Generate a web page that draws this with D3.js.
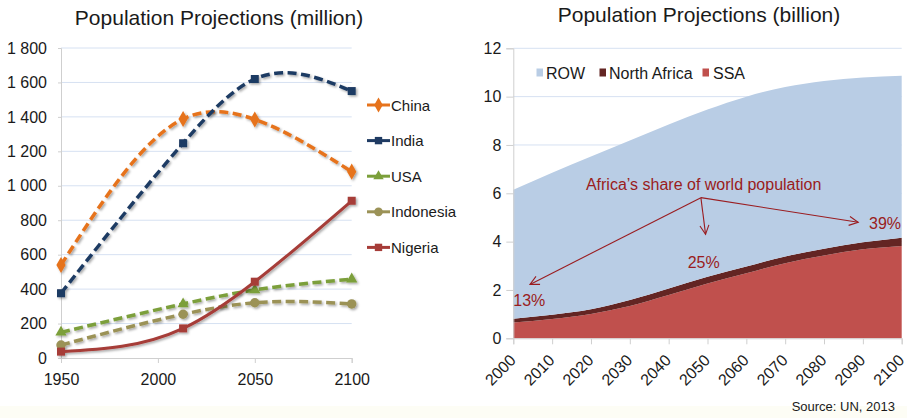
<!DOCTYPE html>
<html>
<head>
<meta charset="utf-8">
<script src="https://cdn.jsdelivr.net/npm/d3@7"></script>
<style>
  body { margin: 0; background: #fff; }
  text { font-family: "Liberation Sans", Arial, sans-serif; fill: #1a1a1a; }
</style>
</head>
<body>
<svg id="chart" width="907" height="418"></svg>
<script>
// ---- data: left chart (million) ----
var years = [1950, 2013, 2050, 2100];
var china = [540, 1388, 1385, 1082];
var india = [376, 1247, 1620, 1550];
var usa = [149, 314, 395, 458];
var indonesia = [75, 254, 321, 314];
var nigeria = [37, 172, 443, 913];
var leftYTicks = [0, 200, 400, 600, 800, 1000, 1200, 1400, 1600, 1800];
var leftXTicks = [1950, 2000, 2050, 2100];

// ---- data: right chart (billion) ----
var decades = [2000, 2010, 2020, 2030, 2040, 2050, 2060, 2070, 2080, 2090, 2100];
var ssa = [0.65, 0.80, 1.01, 1.34, 1.79, 2.27, 2.69, 3.11, 3.43, 3.68, 3.82];
var northAfrica = [0.16, 0.17, 0.19, 0.24, 0.27, 0.28, 0.28, 0.28, 0.28, 0.29, 0.34];
var row = [5.34, 5.88, 6.32, 6.60, 6.79, 6.92, 7.03, 7.01, 6.94, 6.82, 6.70];
var rightYTicks = [0, 2, 4, 6, 8, 10, 12];
var shareLabels = ["13%", "25%", "39%"];

var svg = d3.select("#chart");

// faint strip at the bottom
svg.append("rect").attr("x", 0).attr("y", 406).attr("width", 907).attr("height", 12).attr("fill", "#fdfdf5");

var defs = svg.append("defs");
var f = defs.append("filter").attr("id", "shadow").attr("x", "-20%").attr("y", "-20%").attr("width", "140%").attr("height", "140%");
f.append("feDropShadow").attr("dx", 1.5).attr("dy", 1.5).attr("stdDeviation", 1.2)
  .attr("flood-color", "#000").attr("flood-opacity", 0.35);

defs.append("marker").attr("id", "arrow").attr("viewBox", "-10 -6 12 12")
  .attr("markerWidth", 12).attr("markerHeight", 12).attr("markerUnits", "userSpaceOnUse")
  .attr("orient", "auto").attr("refX", 0).attr("refY", 0)
  .append("path").attr("d", "M-9,-4.5L0,0L-9,4.5").attr("fill", "none")
  .attr("stroke", "#9a1c20").attr("stroke-width", 1.1);

// natural cubic spline in x (Excel-like smoothing)
function curveSmoothX(context) {
  var pts;
  return {
    areaStart: function() {}, areaEnd: function() {},
    lineStart: function() { pts = []; },
    point: function(x, y) { pts.push([+x, +y]); },
    lineEnd: function() {
      var n = pts.length;
      if (!n) return;
      context.moveTo(pts[0][0], pts[0][1]);
      if (n < 3) { for (var j = 1; j < n; j++) context.lineTo(pts[j][0], pts[j][1]); return; }
      var h = [], s = [], i;
      for (i = 0; i < n - 1; i++) {
        h[i] = pts[i + 1][0] - pts[i][0];
        s[i] = (pts[i + 1][1] - pts[i][1]) / h[i];
      }
      // tridiagonal solve for second derivatives, natural ends
      var M = new Array(n).fill(0), a = [], b = [], c = [], d = [];
      for (i = 1; i < n - 1; i++) {
        a[i] = h[i - 1]; b[i] = 2 * (h[i - 1] + h[i]); c[i] = h[i]; d[i] = 6 * (s[i] - s[i - 1]);
      }
      for (i = 2; i < n - 1; i++) {
        var m = a[i] / b[i - 1];
        b[i] -= m * c[i - 1]; d[i] -= m * d[i - 1];
      }
      for (i = n - 2; i >= 1; i--) M[i] = (d[i] - (i < n - 2 ? c[i] * M[i + 1] : 0)) / b[i];
      for (i = 0; i < n - 1; i++) {
        var d0 = s[i] - h[i] * (2 * M[i] + M[i + 1]) / 6;
        var d1 = s[i] + h[i] * (M[i] + 2 * M[i + 1]) / 6;
        context.bezierCurveTo(pts[i][0] + h[i] / 3, pts[i][1] + d0 * h[i] / 3,
          pts[i + 1][0] - h[i] / 3, pts[i + 1][1] - d1 * h[i] / 3,
          pts[i + 1][0], pts[i + 1][1]);
      }
    }
  };
}

// ================= LEFT CHART =================
var xL = d3.scaleLinear().domain([1950, 2100]).range([61, 351.7]);
var yL = d3.scaleLinear().domain([0, 1800]).range([358, 48]);

svg.append("text").attr("x", 219).attr("y", 25).attr("text-anchor", "middle")
  .style("font-size", "21px").text("Population Projections (million)");

var gl = svg.append("g");
gl.selectAll(".grid").data(leftYTicks.slice(1)).enter().append("line")
  .attr("x1", xL(1950)).attr("x2", xL(2100))
  .attr("y1", function(d) { return yL(d); }).attr("y2", function(d) { return yL(d); })
  .attr("stroke", "#d6e1f2").attr("stroke-width", 1);

var yAxisL = gl.append("g").attr("transform", "translate(" + xL(1950) + ",0)")
  .call(d3.axisLeft(yL).tickValues(leftYTicks).tickSize(3).tickPadding(11)
    .tickFormat(function(d) { return d >= 1000 ? d3.format(",")(d).replace(",", " ") : d; }));
var xAxisL = gl.append("g").attr("transform", "translate(0," + yL(0) + ")")
  .call(d3.axisBottom(xL).tickValues(leftXTicks).tickSize(5).tickPadding(11).tickFormat(d3.format("d")));
[yAxisL, xAxisL].forEach(function(a) {
  a.select(".domain").attr("stroke", "#cfcfcf");
  a.selectAll(".tick line").attr("stroke", "#cfcfcf");
  a.selectAll("text").style("font-size", "16px").attr("fill", "#1a1a1a")
    .style("font-family", "'Liberation Sans', Arial, sans-serif");
});
yAxisL.select(".tick line").attr("stroke", "none");

var seriesL = [
  { name: "China", values: china, color: "#e6731c", symbol: d3.symbolDiamond, size: 75, dash: "9,4.5" },
  { name: "India", values: india, color: "#1f3b63", symbol: d3.symbolSquare, size: 64, dash: "9,4.5" },
  { name: "USA", values: usa, color: "#7b9f3a", symbol: d3.symbolTriangle, size: 55, dash: "9,4.5" },
  { name: "Indonesia", values: indonesia, color: "#9b9257", symbol: d3.symbolCircle, size: 70, dash: "9,4.5" },
  { name: "Nigeria", values: nigeria, color: "#a63c38", symbol: d3.symbolSquare, size: 64, dash: null }
];

var lineL = d3.line()
  .x(function(d, i) { return xL(years[i]); })
  .y(function(d) { return yL(d); })
  .curve(curveSmoothX);

var sg = gl.selectAll(".series").data(seriesL).enter().append("g").attr("filter", "url(#shadow)");
sg.append("path")
  .attr("d", function(s) { return lineL(s.values); })
  .attr("fill", "none").attr("stroke", function(s) { return s.color; })
  .attr("stroke-width", function(s) { return s.dash ? 3.5 : 3; })
  .attr("stroke-dasharray", function(s) { return s.dash; });
sg.each(function(s) {
  d3.select(this).selectAll("path.m").data(s.values).enter().append("path").attr("class", "m")
    .attr("d", d3.symbol().type(s.symbol).size(s.size))
    .attr("transform", function(d, i) { return "translate(" + xL(years[i]) + "," + yL(d) + ")"; })
    .attr("fill", s.color);
});

// legend
var lg = svg.append("g").selectAll("g").data(seriesL).enter().append("g")
  .attr("transform", function(d, i) { return "translate(367," + (105 + i * 35.6) + ")"; });
lg.append("line").attr("x1", 0).attr("x2", 23).attr("stroke", function(s) { return s.color; }).attr("stroke-width", 3);
lg.append("path").attr("d", function(s) { return d3.symbol().type(s.symbol).size(s.size * 0.85)(); })
  .attr("transform", "translate(11.5,0)").attr("fill", function(s) { return s.color; });
lg.append("text").attr("x", 24).attr("y", 5.5).style("font-size", "15px").text(function(s) { return s.name; });

// ================= RIGHT CHART =================
var xR = d3.scaleLinear().domain([2000, 2100]).range([513.3, 901.7]);
var yR = d3.scaleLinear().domain([0, 12]).range([338.3, 48.3]);

svg.append("text").attr("x", 699).attr("y", 22).attr("text-anchor", "middle")
  .style("font-size", "21px").text("Population Projections (billion)");

var gr = svg.append("g");
gr.selectAll(".grid").data(rightYTicks.slice(1)).enter().append("line")
  .attr("x1", xR(2000)).attr("x2", xR(2100))
  .attr("y1", function(d) { return yR(d); }).attr("y2", function(d) { return yR(d); })
  .attr("stroke", "#d6e1f2").attr("stroke-width", 1);

var table = decades.map(function(y, i) {
  return { year: y, SSA: ssa[i], "North Africa": northAfrica[i], ROW: row[i] };
});
var keys = ["SSA", "North Africa", "ROW"];
var colorsR = { "SSA": "#c0504d", "North Africa": "#632523", "ROW": "#b9cde5" };
var stacked = d3.stack().keys(keys)(table);
var area = d3.area()
  .x(function(d) { return xR(d.data.year); })
  .y0(function(d) { return yR(d[0]); })
  .y1(function(d) { return yR(d[1]); })
  .curve(d3.curveMonotoneX);
gr.selectAll(".layer").data(stacked).enter().append("path")
  .attr("d", area).attr("fill", function(d) { return colorsR[d.key]; });

var yAxisR = gr.append("g").attr("transform", "translate(" + xR(2000) + ",0)")
  .call(d3.axisLeft(yR).tickValues(rightYTicks).tickSize(7).tickPadding(5));
var xAxisR = gr.append("g").attr("transform", "translate(0," + yR(0) + ")")
  .call(d3.axisBottom(xR).tickValues(decades).tickSize(6).tickFormat(d3.format("d")));
[yAxisR, xAxisR].forEach(function(a) {
  a.select(".domain").attr("stroke", "#cfcfcf");
  a.selectAll(".tick line").attr("stroke", "#cfcfcf");
  a.selectAll("text").style("font-size", "16px").attr("fill", "#1a1a1a")
    .style("font-family", "'Liberation Sans', Arial, sans-serif");
});
xAxisR.selectAll("text").attr("text-anchor", "end").attr("dy", 0).attr("y", 0)
  .attr("transform", "translate(3,23) rotate(-45)");

// legend
var legR = [["ROW", 536.5, 546], ["North Africa", 599.5, 609], ["SSA", 702.5, 713]];
var lr = svg.append("g").selectAll("g").data(legR).enter().append("g");
lr.append("rect").attr("x", function(d) { return d[1]; }).attr("y", 68.5).attr("width", 6.5).attr("height", 8)
  .attr("fill", function(d) { return colorsR[d[0]]; });
lr.append("text").attr("x", function(d) { return d[2]; }).attr("y", 78.5)
  .style("font-family", "'Liberation Sans Narrow', 'Arial Narrow', sans-serif").style("font-size", "16px")
  .text(function(d) { return d[0]; });

// annotation
var red = "#9a1c20";
var origin = [2048.3, 5.82];
var targets = [[2004.3, 2.23], [2049.5, 4.30], [2088.8, 4.80]];
var labelPos = [[2000, 1.34], [2044.9, 2.9], [2091.6, 4.52]];
svg.append("text").attr("x", xR(2018.7)).attr("y", yR(6.14)).style("font-size", "16px")
  .attr("fill", red).style("fill", red).text("Africa\u2019s share of world population");
svg.selectAll(".arr").data(targets).enter().append("line")
  .attr("x1", xR(origin[0])).attr("y1", yR(origin[1]))
  .attr("x2", function(d) { return xR(d[0]); }).attr("y2", function(d) { return yR(d[1]); })
  .attr("stroke", red).attr("stroke-width", 1.1).attr("marker-end", "url(#arrow)");
svg.selectAll(".pct").data(labelPos).enter().append("text")
  .attr("x", function(d) { return xR(d[0]); }).attr("y", function(d) { return yR(d[1]); })
  .style("font-size", "16px").style("fill", red)
  .text(function(d, i) { return shareLabels[i]; });

svg.append("text").attr("x", 895).attr("y", 410.5).attr("text-anchor", "end")
  .style("font-size", "13px").text("Source: UN, 2013");
</script>
</body>
</html>
